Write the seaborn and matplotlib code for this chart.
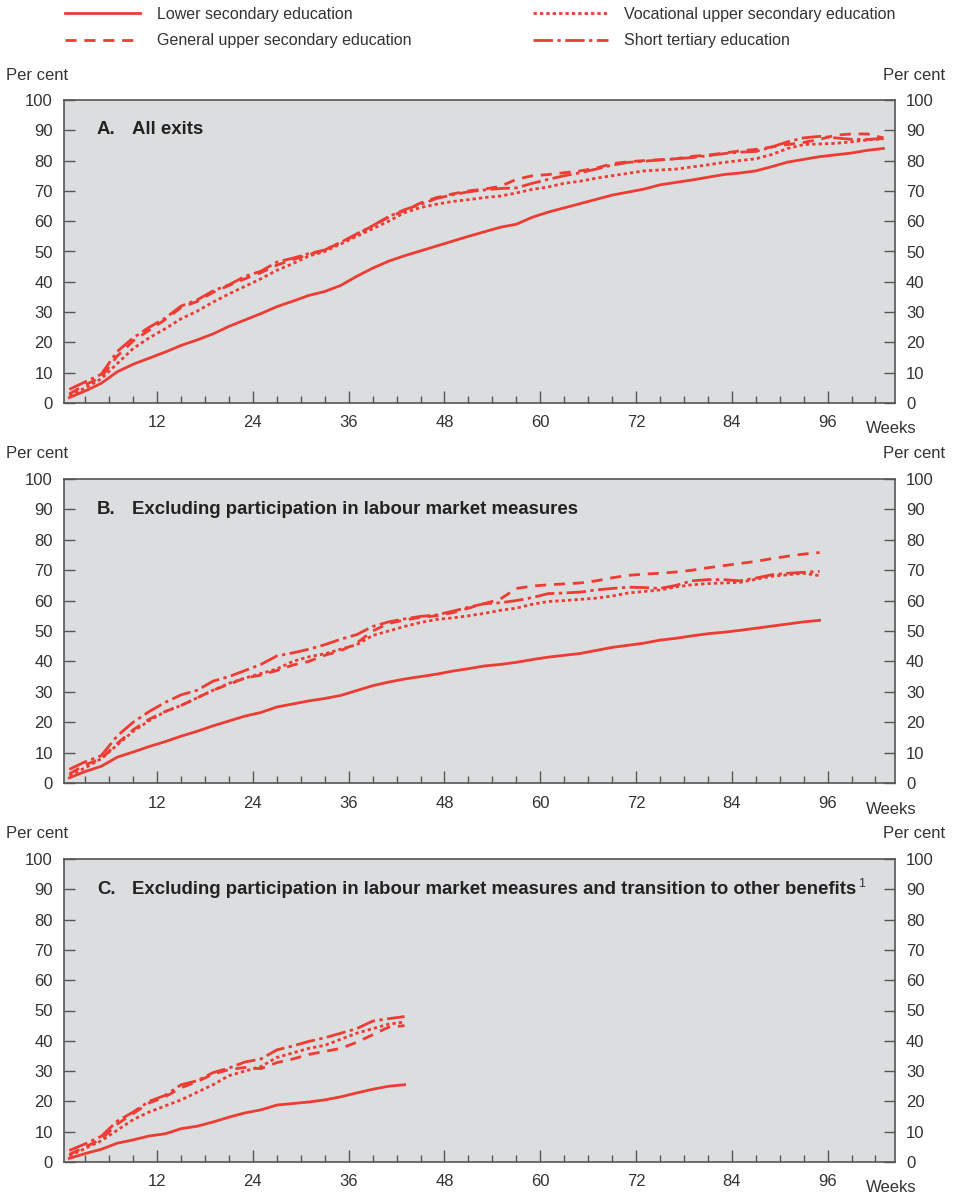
import matplotlib
matplotlib.use("Agg")
import matplotlib.pyplot as plt
from matplotlib.lines import Line2D
import numpy as np
import pandas as pd
import seaborn as sns

# ---------------- data ----------------
levels = ["Lower secondary education", "General upper secondary education",
          "Vocational upper secondary education", "Short tertiary education"]

weeks_a = list(range(1, 104, 2))
weeks_b = list(range(1, 96, 2))
weeks_c = list(range(1, 44, 2))

a_lower = [1.8, 4.0, 6.5, 10.3, 12.8, 14.8, 16.8, 19.0, 20.8, 22.8,
           25.3, 27.4, 29.5, 31.8, 33.6, 35.5, 36.8, 38.8, 41.8, 44.5,
           46.8, 48.6, 50.2, 51.8, 53.4, 55.0, 56.5, 58.0, 59.0, 61.3,
           63.0, 64.4, 65.8, 67.2, 68.6, 69.6, 70.6, 72.0, 72.8, 73.6,
           74.5, 75.4, 75.9, 76.6, 78.0, 79.5, 80.4, 81.3, 81.9, 82.5,
           83.4, 84.0]
a_general = [3.0, 6.0, 8.5, 15.5, 20.5, 24.0, 27.5, 31.5, 33.5, 36.5,
             38.8, 41.0, 43.0, 45.5, 47.3, 49.0, 50.5, 53.0, 55.5, 58.5,
             61.3, 63.5, 66.0, 67.8, 69.0, 70.0, 70.6, 71.5, 73.8, 75.0,
             75.4, 76.0, 76.6, 77.5, 79.0, 79.6, 80.0, 80.3, 80.6, 81.4,
             81.8, 82.5, 83.2, 83.7, 84.5, 85.3, 86.0, 87.0, 88.4, 88.8,
             88.8, 87.5]
a_vocational = [2.5, 5.0, 8.0, 13.0, 18.0, 21.5, 24.5, 27.8, 30.3, 33.3,
                36.0, 38.5, 41.0, 43.8, 46.0, 48.5, 50.0, 52.5, 55.0, 57.5,
                60.0, 62.8, 64.5, 65.6, 66.5, 67.1, 67.8, 68.3, 69.3, 70.5,
                71.3, 72.5, 73.2, 74.2, 75.0, 75.8, 76.6, 76.9, 77.2, 77.9,
                78.6, 79.4, 80.0, 80.6, 82.0, 84.0, 85.3, 85.5, 85.7, 86.2,
                86.8, 87.2]
a_tertiary = [4.5, 7.0, 9.5, 17.0, 21.5, 25.0, 28.0, 32.0, 34.0, 37.0,
              39.0, 41.8, 43.5, 46.5, 47.8, 49.3, 50.5, 53.0, 55.8, 58.5,
              61.5, 63.8, 65.5, 67.5, 68.7, 69.7, 70.3, 70.8, 71.0, 72.5,
              73.8, 75.0, 76.0, 77.2, 78.5, 79.4, 79.8, 80.2, 80.6, 81.0,
              81.6, 82.3, 82.8, 83.0, 84.5, 86.2, 87.5, 88.0, 87.5, 87.0,
              87.0, 87.3]

b_lower = [1.7, 3.8, 5.5, 8.5, 10.2, 12.0, 13.6, 15.4, 17.0, 18.8,
           20.4, 22.0, 23.2, 25.0, 26.0, 27.0, 27.8, 28.8, 30.4, 32.0,
           33.2, 34.2, 35.0, 35.8, 36.8, 37.6, 38.5, 39.0, 39.7, 40.6,
           41.4, 42.0, 42.6, 43.6, 44.6, 45.3, 46.0, 47.0, 47.6, 48.4,
           49.1, 49.6, 50.2, 50.9, 51.6, 52.3, 53.0, 53.5]
b_general = [3.0, 6.0, 8.0, 13.0, 17.5, 21.0, 23.5, 25.5, 28.0, 30.5,
             32.5, 34.5, 35.5, 37.0, 38.8, 40.0, 42.0, 43.5, 46.0, 50.0,
             52.5, 53.6, 54.5, 55.0, 56.0, 57.5, 59.0, 60.5, 64.0, 64.8,
             65.2, 65.5, 65.8, 66.5, 67.5, 68.3, 68.7, 69.0, 69.4, 70.0,
             70.8, 71.5, 72.2, 72.9, 73.8, 74.6, 75.3, 75.8]
b_vocational = [2.5, 5.0, 8.0, 12.5, 17.0, 20.5, 23.5, 25.5, 28.0, 30.5,
                32.8, 34.5, 36.0, 37.5, 40.0, 41.5, 42.5, 44.0, 45.5, 48.5,
                50.0, 51.5, 52.8, 53.8, 54.3, 55.0, 55.8, 56.8, 57.5, 58.8,
                59.7, 60.0, 60.4, 60.8, 61.5, 62.5, 63.0, 63.5, 64.5, 65.2,
                65.6, 65.8, 66.0, 67.0, 68.0, 68.5, 69.0, 68.2]
b_tertiary = [4.5, 7.0, 9.0, 15.5, 20.0, 23.5, 26.5, 29.0, 30.5, 33.5,
              35.0, 37.0, 39.0, 41.8, 42.8, 44.0, 45.5, 47.3, 48.8, 51.5,
              53.0, 54.0, 54.8, 55.3, 56.5, 57.8, 59.0, 59.3, 60.0, 61.0,
              62.3, 62.5, 62.8, 63.5, 64.0, 64.4, 64.3, 64.0, 65.0, 66.5,
              66.9, 66.9, 66.5, 67.4, 68.5, 69.0, 69.3, 69.6]

c_lower = [1.2, 2.8, 4.2, 6.2, 7.3, 8.6, 9.3, 11.0, 11.8, 13.2, 14.8,
           16.2, 17.2, 18.8, 19.3, 19.8, 20.5, 21.5, 22.8, 24.0, 25.0, 25.5]
c_general = [2.5, 5.0, 7.5, 12.5, 16.0, 19.5, 21.5, 24.5, 26.5, 29.0, 30.5,
             31.2, 30.8, 32.8, 34.0, 35.5, 36.5, 37.5, 39.5, 42.0, 44.5, 45.0]
c_vocational = [2.0, 4.5, 7.0, 10.5, 14.0, 16.5, 18.5, 20.5, 23.0, 25.5, 28.5,
                30.0, 31.5, 34.5, 36.0, 37.5, 38.5, 40.5, 42.5, 44.0, 45.5, 46.2]
c_tertiary = [3.8, 6.0, 8.5, 13.5, 16.5, 20.0, 22.0, 25.5, 26.8, 29.5, 31.0,
              33.0, 34.0, 37.0, 38.3, 39.8, 41.0, 42.5, 44.0, 46.5, 47.3, 48.0]

x_major = [12, 24, 36, 48, 60, 72, 84, 96]
y_ticks = [0, 10, 20, 30, 40, 50, 60, 70, 80, 90, 100]

titles = [("A.", "All exits"),
          ("B.", "Excluding participation in labour market measures"),
          ("C.", "Excluding participation in labour market measures and transition to other benefits")]

# ---------------- style ----------------
RED = "#EE3B33"
BG = "#DCDDDF"
SPINE = "#555555"
TXT = "#333333"
LW = 2.0
dash_map = {levels[0]: "", levels[1]: (4.0, 2.8),
            levels[2]: (1.2, 1.1), levels[3]: (7.0, 1.6, 1.2, 1.6)}

plt.rcParams["font.family"] = ["Liberation Sans", "DejaVu Sans"]

W, H = 954, 1196
fig = plt.figure(figsize=(W / 100, H / 100), dpi=100)


def rect(l, t, r, b):
    return [l / W, 1 - b / H, (r - l) / W, (b - t) / H]


def long_df(weeks, series):
    frames = []
    for lev, vals in zip(levels, series):
        frames.append(pd.DataFrame({"week": weeks, "value": vals, "level": lev}))
    return pd.concat(frames, ignore_index=True)


panels = [
    (rect(64, 100, 895, 403), long_df(weeks_a, [a_lower, a_general, a_vocational, a_tertiary])),
    (rect(64, 479, 895, 783), long_df(weeks_b, [b_lower, b_general, b_vocational, b_tertiary])),
    (rect(64, 859, 895, 1162), long_df(weeks_c, [c_lower, c_general, c_vocational, c_tertiary])),
]

for i, (r, df) in enumerate(panels):
    ax = fig.add_axes(r)
    ax.set_facecolor(BG)
    sns.lineplot(data=df, x="week", y="value", style="level", style_order=levels,
                 dashes=dash_map, color=RED, linewidth=LW, ax=ax, legend=False,
                 estimator=None, sort=True)
    ax.set_xlim(0.33, 104.45)
    ax.set_ylim(0, 100)
    ax.set_xlabel("")
    ax.set_ylabel("")
    ax.set_xticks(x_major)
    ax.set_xticks(list(range(3, 104, 3)), minor=True)
    ax.set_yticks(y_ticks)
    ax.tick_params(axis="x", which="major", direction="in", length=8.5, width=1.0,
                   color=SPINE, pad=9, labelsize=12, labelcolor=TXT)
    ax.tick_params(axis="x", which="minor", direction="in", length=5, width=1.0,
                   color=SPINE)
    ax.tick_params(axis="y", which="major", direction="in", length=8, width=1.0,
                   color=SPINE, left=True, right=True, labelleft=True, labelright=True,
                   pad=8, labelsize=12, labelcolor=TXT)
    for s in ax.spines.values():
        s.set_color(SPINE)
        s.set_linewidth(1.2)
    # titles
    letter, text = titles[i]
    ax.text(33 / 831, 1 - 30 / 303, letter, transform=ax.transAxes, fontsize=13.4,
            fontweight="bold", color="#222222", va="center", ha="left")
    t = ax.text(68 / 831, 1 - 30 / 303, text, transform=ax.transAxes, fontsize=13.4,
                fontweight="bold", color="#222222", va="center", ha="left")
    if i == 2:
        ax.annotate("1", xy=(1, 0.8), xycoords=t, xytext=(1.5, 0),
                    textcoords="offset points", fontsize=9, color=TXT,
                    va="center", ha="left")
    # Per cent labels
    ax.text(-58 / 831, 1 + 25 / 303, "Per cent", transform=ax.transAxes,
            fontsize=12, color=TXT, ha="left", va="center")
    ax.text(1 + 50 / 831, 1 + 25 / 303, "Per cent", transform=ax.transAxes,
            fontsize=12, color=TXT, ha="right", va="center")
    ax.text(1 - 29 / 831, -26 / 303, "Weeks", transform=ax.transAxes,
            fontsize=12, color=TXT, ha="left", va="center")

handles = [Line2D([], [], color=RED, lw=LW,
                  linestyle="-" if dash_map[l] == "" else (0, dash_map[l]))
           for l in levels]
fs = 11.5
fpx = fs * 100 / 72
fig.legend(handles, levels, ncol=2, loc="upper left",
           bbox_to_anchor=(65 / W, 1 - 7 / H), frameon=False, fontsize=fs,
           handlelength=75 / fpx, handletextpad=17 / fpx, columnspacing=121 / fpx,
           labelspacing=0.72, borderpad=0, borderaxespad=0, labelcolor=TXT)

fig.savefig("out.png", dpi=100, facecolor="white")
